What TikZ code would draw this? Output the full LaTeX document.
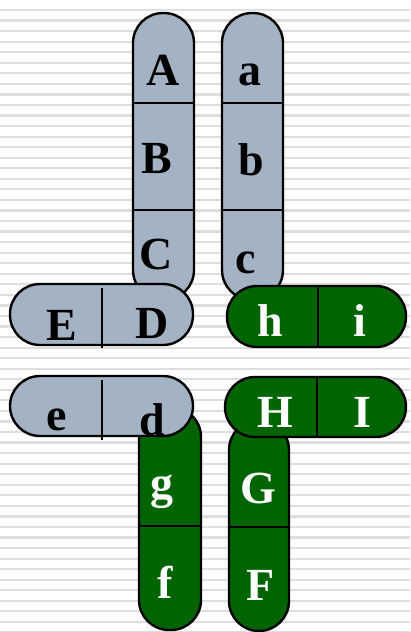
\documentclass[tikz,border=0pt]{standalone}
\usepackage{fontspec}
\setmainfont{Liberation Serif}
\definecolor{capgray}{RGB}{164,179,195}
\definecolor{capgreen}{RGB}{0,100,0}
\definecolor{stripe}{RGB}{222,222,222}
\tikzset{
  capsule/.style={draw=black, line width=2.4pt, rounded corners=30pt},
  grayc/.style={capsule, fill=capgray},
  greenc/.style={capsule, fill=capgreen},
  divider/.style={draw=black, line width=2pt},
  lab/.style={anchor=base, inner sep=0pt, font=\fontsize{46}{46}\selectfont\bfseries},
  darklab/.style={lab, text=black},
  lightlab/.style={lab, text=white},
}
\begin{document}
\begin{tikzpicture}[x=1pt, y=-1pt]
\useasboundingbox (0,0) rectangle (410,632);
\fill[white] (0,0) rectangle (410,632);
\foreach \k in {0,...,59} {
  \draw[stripe, line width=2.2pt] (0,{10+10.55*\k}) -- (410,{10+10.55*\k});
}
% vertical gray capsule ABC
\path[grayc] (133,13) rectangle (194,300);
\draw[divider] (133,103) -- (194,103);
\draw[divider] (133,210) -- (194,210);
\node[darklab] (A) at (163,85) {A};
\node[darklab] (B) at (157,173) {B};
\node[darklab] (C) at (156,269) {C};
% vertical gray capsule abc
\path[grayc] (222,13) rectangle (283,300);
\draw[divider] (222,103) -- (283,103);
\draw[divider] (222,210) -- (283,210);
\node[darklab] (a) at (250,85) {a};
\node[darklab] (b) at (251,175) {b};
\node[darklab] (c) at (246,273) {c};
% vertical green capsule gf
\path[greenc] (139,407) rectangle (201,630);
\draw[divider] (139,526) -- (201,526);
\node[lightlab] (g) at (162,498) {g};
\node[lightlab] (f) at (165,598) {f};
% vertical green capsule GF
\path[greenc] (229,420) rectangle (289,631);
\draw[divider] (229,527) -- (289,527);
\node[lightlab] (G) at (258,503) {G};
\node[lightlab] (F) at (261,600) {F};
% horizontal gray capsule ED
\path[grayc] (10,284) rectangle (193,345);
\draw[divider] (102,288) -- (102,348);
\node[darklab] (E) at (62,340) {E};
\node[darklab] (D) at (152,338) {D};
% horizontal green capsule hi
\path[greenc] (227,286) rectangle (406,347);
\draw[divider] (318,286) -- (318,347);
\node[lightlab] (h) at (270,336) {h};
\node[lightlab] (i) at (360,336) {i};
% horizontal gray capsule ed
\path[grayc] (10,376) rectangle (193,436);
\draw[divider] (102,380) -- (102,440);
\node[darklab] (e) at (57,430) {e};
\node[darklab] (d) at (152,435) {d};
% horizontal green capsule HI
\path[greenc] (225,377) rectangle (406,437);
\draw[divider] (317,377) -- (317,437);
\node[lightlab] (H) at (275,427) {H};
\node[lightlab] (I) at (362,427) {I};
\end{tikzpicture}
\end{document}
